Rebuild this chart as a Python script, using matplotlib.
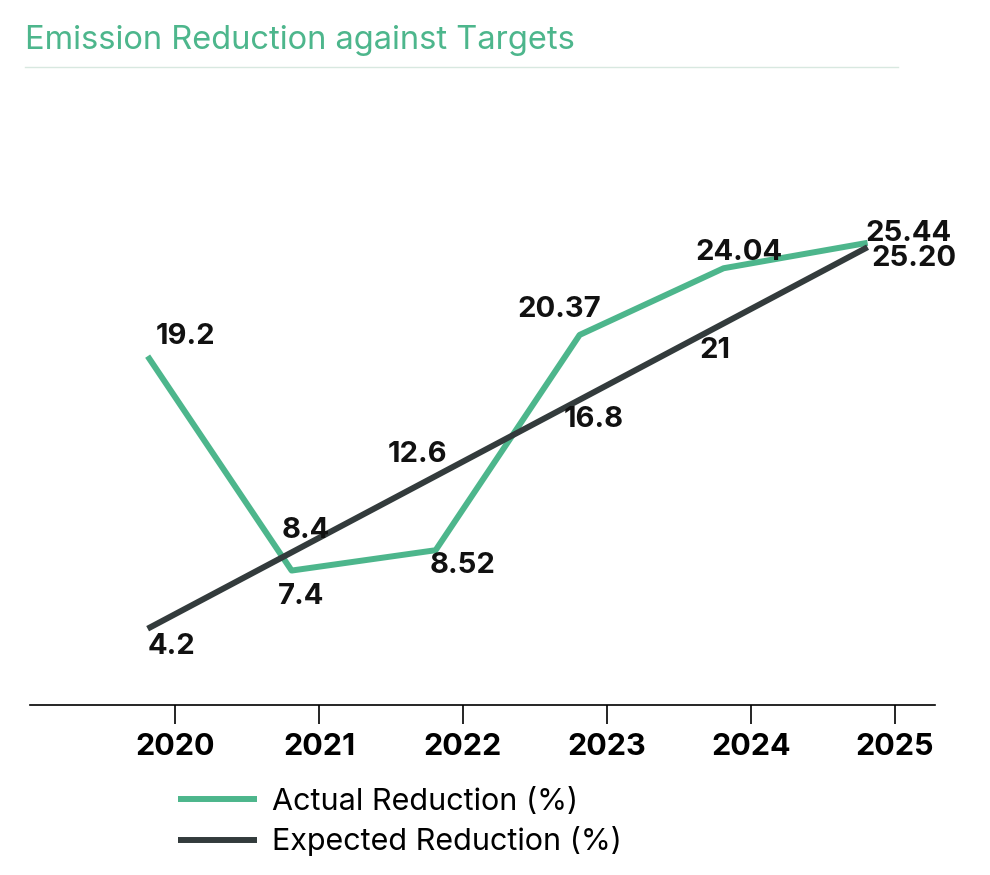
import matplotlib
matplotlib.use("Agg")
import matplotlib.pyplot as plt

years = ["2020", "2021", "2022", "2023", "2024", "2025"]
actual = [19.2, 7.4, 8.52, 20.37, 24.04, 25.44]
expected = [4.2, 8.4, 12.6, 16.8, 21, 25.2]
actual_labels = ["19.2", "7.4", "8.52", "20.37", "24.04", "25.44"]
expected_labels = ["4.2", "8.4", "12.6", "16.8", "21", "25.20"]

plt.rcParams['font.family'] = ['Inter', 'DejaVu Sans']
GREEN = "#4db68c"
DARK = "#333b3c"

fig = plt.figure(figsize=(9.9, 8.75), dpi=100)
ax = fig.add_axes([30/990, 1-705/875, 905/990, 605/875])
xs = [i - 0.19 for i in range(len(years))]
la, = ax.plot(xs, actual, color=GREEN, lw=4.3, solid_capstyle='butt', label="Actual Reduction (%)")
le, = ax.plot(xs, expected, color=DARK, lw=4.3, solid_capstyle='butt', label="Expected Reduction (%)")
ax.set_xlim(-1.007, 5.278)
ax.set_ylim(0, 33.3)
ax.set_xticks(range(len(years)))
ax.set_xticklabels(years, fontsize=22, fontweight='bold')
ax.set_yticks([])
for s in ['top', 'right', 'left']:
    ax.spines[s].set_visible(False)
ax.spines['bottom'].set_linewidth(1.2)
ax.tick_params(axis='x', length=14, width=1.2, pad=6)

a_off = [(8, 6, 'left', 'bottom'), (-14, -12, 'left', 'top'), (-6, -2, 'left', 'top'),
         (-62, 12, 'left', 'bottom'), (-28, 2, 'left', 'bottom'), (-2, -4, 'left', 'bottom')]
e_off = [(0, -4, 'left', 'top'), (-10, 8, 'left', 'bottom'), (-48, 8, 'left', 'bottom'),
         (-16, -6, 'left', 'top'), (-24, -14, 'left', 'top'), (4, 2, 'left', 'top')]
for x, v, t, (dx, dy, ha, va) in zip(xs, actual, actual_labels, a_off):
    ax.annotate(t, (x, v), xytext=(dx, dy), textcoords='offset pixels', ha=ha, va=va,
                fontsize=21, fontweight='bold', color='#111111')
for x, v, t, (dx, dy, ha, va) in zip(xs, expected, expected_labels, e_off):
    ax.annotate(t, (x, v), xytext=(dx, dy), textcoords='offset pixels', ha=ha, va=va,
                fontsize=21, fontweight='bold', color='#111111')

fig.text(25/990, 1-40/875, "Emission Reduction against Targets", color=GREEN, fontsize=23.5,
         va='center', ha='left')
fig.add_artist(plt.Line2D([25/990, 898/990], [1-67/875, 1-67/875], color='#d8e8e0', lw=1))

fig.legend(handles=[la, le], loc='upper left', bbox_to_anchor=(150/990, 1-760/875),
           frameon=False, fontsize=22, handlelength=2.6, labelspacing=0.35, handletextpad=0.5)
fig.savefig("out.png", dpi=100)
